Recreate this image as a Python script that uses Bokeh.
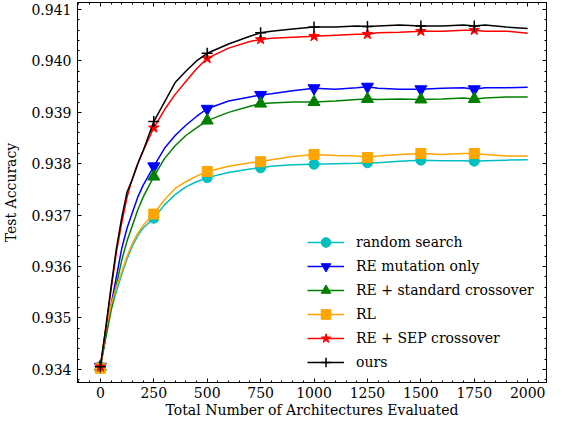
from bokeh.plotting import figure
from bokeh.models import (Range1d, LinearAxis, SingleIntervalTicker, PrintfTickFormatter,
                          CustomJSTickFormatter, Legend, LegendItem, ColumnDataSource)
from bokeh.embed import file_html
from bokeh.resources import INLINE

# ---------------- data ----------------
evaluated = [0, 25, 50, 75, 100, 125, 150, 175, 200, 250, 300, 350, 400, 450, 500,
             600, 700, 750, 800, 900, 1000, 1100, 1200, 1250, 1300, 1400, 1500,
             1600, 1700, 1750, 1800, 1900, 2000]

random_search = [0.93405, 0.93465, 0.93515, 0.93552, 0.93585, 0.93615, 0.93640, 0.93660,
                 0.93675, 0.93694, 0.93720, 0.93740, 0.93755, 0.93765, 0.93773,
                 0.93783, 0.93790, 0.93792, 0.93795, 0.93798, 0.93799, 0.93800, 0.93801,
                 0.93802, 0.93802, 0.93805, 0.93807, 0.93806, 0.93806, 0.93805, 0.93806,
                 0.93807, 0.93808]

re_mutation = [0.93405, 0.93465, 0.93525, 0.93580, 0.93635, 0.93675, 0.93705, 0.93735,
               0.93758, 0.93795, 0.93830, 0.93855, 0.93875, 0.93892, 0.93907,
               0.93922, 0.93930, 0.93934, 0.93936, 0.93942, 0.93947, 0.93945, 0.93948,
               0.93950, 0.93947, 0.93945, 0.93945, 0.93947, 0.93948, 0.93945, 0.93948,
               0.93948, 0.93949]

re_standard = [0.93405, 0.93460, 0.93515, 0.93565, 0.93612, 0.93650, 0.93680, 0.93710,
               0.93735, 0.93775, 0.93810, 0.93835, 0.93855, 0.93870, 0.93884,
               0.93900, 0.93912, 0.93917, 0.93918, 0.93920, 0.93920, 0.93922, 0.93925,
               0.93926, 0.93925, 0.93926, 0.93925, 0.93926, 0.93928, 0.93926, 0.93928,
               0.93930, 0.93930]

rl = [0.93402, 0.93475, 0.93525, 0.93560, 0.93590, 0.93620, 0.93645, 0.93665,
      0.93680, 0.93702, 0.93730, 0.93752, 0.93765, 0.93776, 0.93785,
      0.93795, 0.93802, 0.93804, 0.93808, 0.93814, 0.93818, 0.93816, 0.93815,
      0.93812, 0.93815, 0.93818, 0.93820, 0.93818, 0.93820, 0.93820, 0.93818,
      0.93815, 0.93815]

re_sep = [0.93405, 0.93478, 0.93555, 0.93628, 0.93685, 0.93735, 0.93772, 0.93800,
          0.93825, 0.93870, 0.93905, 0.93935, 0.93960, 0.93985, 0.94005,
          0.94025, 0.94038, 0.94042, 0.94044, 0.94046, 0.94048, 0.94050, 0.94052,
          0.94052, 0.94055, 0.94056, 0.94058, 0.94058, 0.94060, 0.94060, 0.94058,
          0.94058, 0.94054]

ours = [0.93405, 0.93480, 0.93560, 0.93635, 0.93695, 0.93745, 0.93770, 0.93800,
        0.93825, 0.93882, 0.93920, 0.93958, 0.93980, 0.94000, 0.94015,
        0.94033, 0.94048, 0.94055, 0.94058, 0.94062, 0.94066, 0.94066, 0.94068,
        0.94067, 0.94068, 0.94070, 0.94068, 0.94068, 0.94070, 0.94068, 0.94070,
        0.94066, 0.94063]

marker_every = 250
x_tick_interval = 250
y_tick_interval = 0.001

series_names = ["random search", "RE mutation only", "RE + standard crossover",
                "RL", "RE + SEP crossover", "ours"]
series_values = [random_search, re_mutation, re_standard, rl, re_sep, ours]
series_colors = ["#00BFBF", "#0000FF", "#008000", "#FFA500", "#FF0000", "#000000"]
series_markers = ["circle", "inverted_triangle", "triangle", "square", "star", "cross"]
series_msize = [10, 12, 12, 10, 11, 11]

FONT = "DejaVu Serif, Liberation Serif, serif"
FS = "14px"

p = figure(width=547, height=420, output_backend="svg", toolbar_location=None,
           x_range=Range1d(-107, 2088), y_range=Range1d(0.933743, 0.941138),
           min_border_left=74, min_border_right=1, min_border_top=2, min_border_bottom=0,
           x_axis_label="Total Number of Architectures Evaluated",
           y_axis_label="Test Accuracy")
p.xgrid.visible = False
p.ygrid.visible = False
p.outline_line_color = "black"
p.outline_line_width = 1
p.background_fill_color = "white"
p.border_fill_color = "white"

xt = SingleIntervalTicker(interval=x_tick_interval, num_minor_ticks=5)
yt = SingleIntervalTicker(interval=y_tick_interval, num_minor_ticks=5)

def style_axis(ax, labels=True):
    ax.axis_line_color = "black"
    ax.major_tick_line_color = "black"
    ax.minor_tick_line_color = "black"
    ax.major_tick_in = 4
    ax.major_tick_out = 0
    ax.minor_tick_in = 2
    ax.minor_tick_out = 0
    if labels:
        ax.major_label_text_font = FONT
        ax.major_label_text_font_size = FS
        ax.major_label_text_color = "black"
        ax.axis_label_text_font = FONT
        ax.axis_label_text_font_size = FS
        ax.axis_label_text_font_style = "normal"
        ax.axis_label_text_color = "black"
    else:
        ax.formatter = CustomJSTickFormatter(code="return ''")
        ax.major_label_standoff = 0

p.xaxis.ticker = xt
p.yaxis.ticker = yt
p.yaxis.formatter = PrintfTickFormatter(format="%.3f")
style_axis(p.xaxis[0])
style_axis(p.yaxis[0])
p.xaxis.major_label_standoff = 4
p.xaxis.axis_label_standoff = 1
p.yaxis.major_label_standoff = 6
p.yaxis.axis_label_standoff = 9

top = LinearAxis(ticker=xt)
right = LinearAxis(ticker=yt)
style_axis(top, labels=False)
style_axis(right, labels=False)
p.add_layout(top, "above")
p.add_layout(right, "right")

items = []
for name, vals, col, mk, ms in zip(series_names, series_values, series_colors,
                                   series_markers, series_msize):
    src = ColumnDataSource(dict(x=evaluated, y=vals))
    mx = [x for x in evaluated if x % marker_every == 0 and x < 2000]
    my = [v for x, v in zip(evaluated, vals) if x % marker_every == 0 and x < 2000]
    msrc = ColumnDataSource(dict(x=mx, y=my))
    ln = p.line("x", "y", source=src, line_color=col, line_width=1.5)
    sc = p.scatter("x", "y", source=msrc, marker=mk, size=ms, fill_color=col,
                   line_color=col, line_width=1.5 if mk == "cross" else 1)
    items.append(LegendItem(label=name, renderers=[ln, sc]))

legend = Legend(items=items, location=(230, 8), padding=0, margin=0,
                border_line_alpha=0, background_fill_alpha=0,
                glyph_width=37, glyph_height=24, label_height=24, spacing=0,
                label_standoff=12, label_text_font=FONT, label_text_font_size=FS,
                label_text_color="black")
p.add_layout(legend, "center")

open("out.html", "w").write(file_html(p, INLINE))
